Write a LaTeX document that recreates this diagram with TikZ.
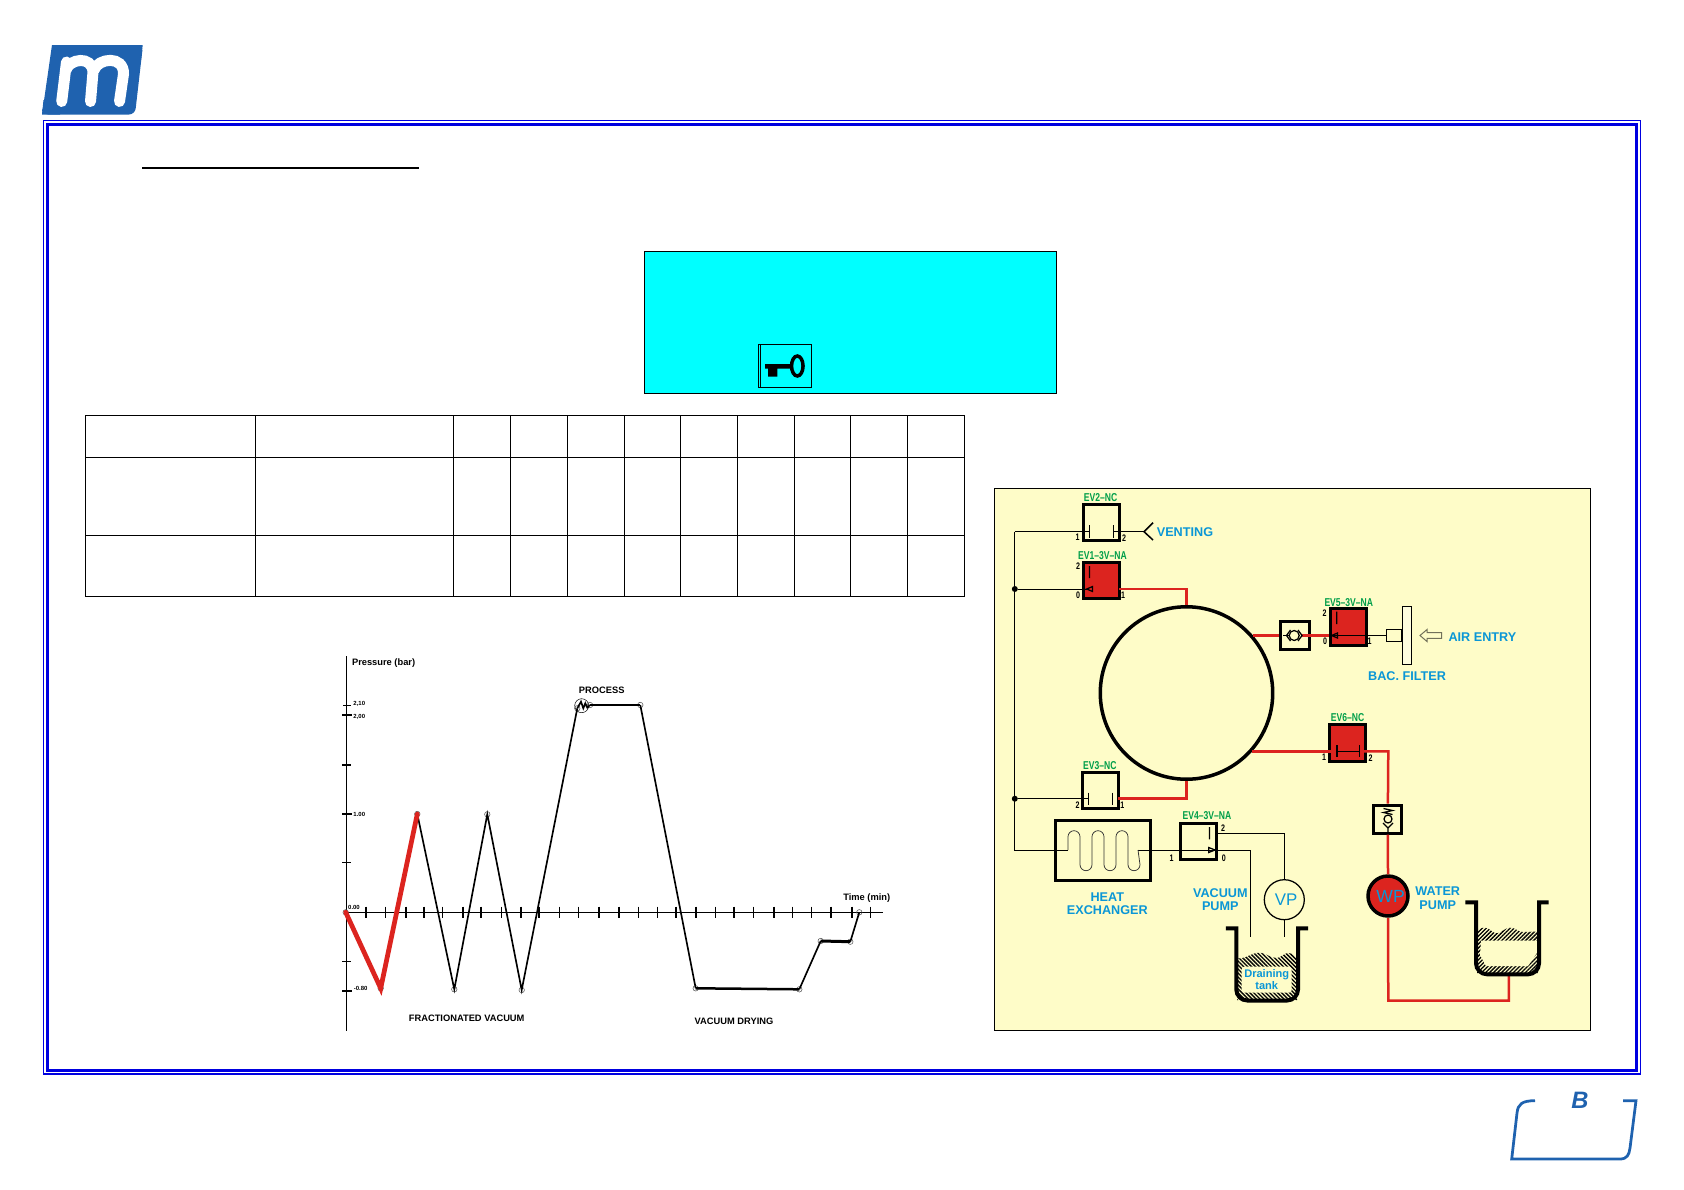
\documentclass[tikz,border=0pt]{standalone}
\usepackage{fontspec}
\setmainfont{Liberation Sans}
\newfontfamily\narrowfont[FakeStretch=.75]{Liberation Sans}
\usepackage{xcolor}
\usepackage{tikz}
\usetikzlibrary{positioning,shapes.geometric,arrows.meta,calc,patterns.meta}
\definecolor{logoblue}{HTML}{1F62AF}
\definecolor{frameblue}{HTML}{0000E0}
\definecolor{panelyellow}{HTML}{FEFCC8}
\definecolor{pipered}{HTML}{DC241F}
\definecolor{textblue}{HTML}{0A96D6}
\definecolor{evgreen}{HTML}{009E49}
\definecolor{notecyan}{RGB}{0,255,255}

\begin{document}
\begin{tikzpicture}[x=0.02cm,y=-0.02cm,
    valve/.style={rectangle, draw=black, line width=0.6mm, minimum width=7.2mm, minimum height=7.3mm, inner sep=0pt},
    valveon/.style={valve, fill=pipered},
    evlabel/.style={font=\narrowfont\bfseries\fontsize{6.5}{7}\selectfont, text=evgreen, inner sep=0pt},
    portnum/.style={font=\narrowfont\bfseries\fontsize{5.4}{6}\selectfont, inner sep=0pt},
    bluetext/.style={font=\bfseries\fontsize{7.2}{7.8}\selectfont, text=textblue, align=center, inner sep=0pt},
    plottext/.style={font=\bfseries\fontsize{5.3}{6}\selectfont, inner sep=0pt},
    ticktext/.style={font=\bfseries\fontsize{3.4}{4}\selectfont, inner sep=0pt},
    pipe/.style={draw=pipered, line width=0.5mm},
    sigline/.style={draw=black, line width=0.2mm},
    stem/.style={draw=black, line width=0.25mm},
    joint/.style={circle, fill=black, minimum size=1.2mm, inner sep=0pt},
    tankwall/.style={draw=black, line width=0.8mm},
    plotmark/.style={circle, draw=black!70, line width=0.1mm, minimum size=1.1mm, inner sep=0pt},
    curve/.style={draw=black, line width=0.33mm},
    curveheavy/.style={draw=pipered, line width=0.95mm}
]
\useasboundingbox (0,0) rectangle (1684,1190);

% logo top left
\fill[logoblue, rounded corners=1.2mm] (52,45) -- (143,45) -- (135,114.5) -- (42,114.5) [sharp corners] -- (42,114.5) -- cycle;
\fill[logoblue] (142.7,45) -- (120,45) -- (120,60) -- (141,60) -- cycle (42,114.5) -- (60,114.5) -- (60,100) -- (43.5,100) -- cycle;
\draw[white, line width=2.2mm, line cap=round] (61.7,101.5) -- (66.5,62)
    (66,70) .. controls (69,59) and (92,55) .. (93,72) -- (90.5,101.5)
    (94,70) .. controls (98,58) and (124,55) .. (123.5,74) -- (119.5,101.5);

% frame
\draw[frameblue, line width=0.25mm] (43.5,120.5) rectangle (1640.5,1074);
\draw[frameblue, line width=0.6mm] (47,124) rectangle (1636,1070.5);

% page letter
\draw[logoblue, line width=0.55mm] (1535,1100.7) .. controls (1522,1100.7) and (1518,1104) .. (1517,1113) -- (1511.7,1159) -- (1620,1159) .. controls (1627,1159) and (1629,1155) .. (1630,1148) -- (1636,1100.7) -- (1623,1100.7);
\node[font=\bfseries\itshape\fontsize{13.5}{14}\selectfont, text=logoblue, inner sep=0pt] (pageletter) at (1580,1100.5) {B};

% title rule
\draw[black, line width=0.4mm] (142,167.7) -- (419,167.7);

% cyan note with key
\draw[black, line width=0.2mm, fill=notecyan] (644.3,251) rectangle (1056.7,393);
\draw[black, line width=0.3mm] (758.3,344.3) rectangle (811.7,387.7);
\draw[black, line width=0.15mm] (760.3,344.3) -- (760.3,387.7);
\draw[black, line width=0.7mm] (797.3,366) ellipse (1.15mm and 2mm);
\fill[black] (765,364) -- (790.5,364) -- (790.5,368.5) -- (777.3,368.5) -- (777.3,376.7) -- (768,376.7) -- (768,368.5) -- (765,368.5) -- cycle;

% empty table
\draw[black, line width=0.2mm] (85,415.5) rectangle (964,596);
\foreach \rowy in {457,535}
    \draw[black, line width=0.2mm] (85,\rowy) -- (964,\rowy);
\foreach \colx in {255,453,510,567,624,680,737,794,850,907}
    \draw[black, line width=0.2mm] (\colx,415.5) -- (\colx,596);

% pressure plot
\draw[black, line width=0.3mm] (346.3,656) -- (346.3,1030.7);
\draw[black, line width=0.3mm] (346.3,912.3) -- (883.3,912.3);
\foreach \ty/\tx in {705.3/343, 765/342, 862.7/342, 961.3/342}
    \draw[black, line width=0.3mm] (\tx,\ty) -- (350.5,\ty);
\foreach \ty in {715.3,814,990.7}
    \draw[black, line width=0.45mm] (342,\ty) -- (351.5,\ty);
\foreach \tx in {365.7,406,424,462.7,481,521.3,538.7,598.7,619,676,696,734,773.7,830.7,852}
    \draw[black, line width=0.4mm] (\tx,906.5) -- (\tx,918);
\foreach \tx in {385,442.7,501,559.7,578.3,638.3,657.3,715.3,753.3,792.3,811.3,870.3}
    \draw[black, line width=0.2mm] (\tx,906.5) -- (\tx,918);

\foreach \pname/\ppos in {p0/{345.7,912.3}, p1/{380.7,988.3}, p2/{417.3,814}, p3/{454.3,989.3}, p4/{487.3,814.3}, p5/{521.7,990}, p6/{577.3,708.3}, p7/{590,705}, p8/{640.3,705}, p9/{695.7,988.3}, p10/{799.3,989.3}, p11/{820.7,941}, p12/{850.3,941.7}, p13/{859.3,912.3}}
    \node[plotmark] (\pname) at (\ppos) {};
\node[circle, draw=black, line width=0.1mm, minimum size=2.8mm, inner sep=0pt] (procring) at (581.7,705.7) {};

\draw[curve] (p2.center) -- (p3.center) -- (p4.center) -- (p5.center) -- (p6.center);
\draw[curve] (p6.center) -- (581,701.7) -- (583.3,708.3) -- (585.3,703.3) -- (587.3,707.7) -- (p7.center);
\draw[curve, line width=0.5mm] (p7.center) -- (p8.center);
\draw[curve] (p8.center) -- (p9.center);
\draw[curve, line width=0.5mm] (p9.center) -- (p10.center);
\draw[curve] (p10.center) -- (p11.center);
\draw[curve, line width=0.6mm] (p11.center) -- (p12.center);
\draw[curve] (p12.center) -- (p13.center);
\draw[curveheavy, line cap=round] (p0.center) -- (p1.center) -- (p2.center);

\node[plottext, anchor=west] (pressurelabel) at (351.7,662.7) {Pressure (bar)};
\node[plottext] (processlabel) at (601.7,690.7) {PROCESS};
\node[plottext] (timelabel) at (866.7,898) {Time (min)};
\node[plottext] (fractionlabel) at (466.7,1018.7) {FRACTIONATED VACUUM};
\node[plottext] (dryinglabel) at (734,1021.7) {VACUUM DRYING};
\node[ticktext] (t210) at (359.3,704.3) {2,10};
\node[ticktext] (t200) at (359.3,717) {2,00};
\node[ticktext] (t100) at (359.3,814.3) {1.00};
\node[ticktext] (t000) at (354,907.7) {0.00};
\node[ticktext] (t080) at (360.7,988) {-0.80};

% circuit panel
\draw[black, line width=0.2mm, fill=panelyellow] (994.2,488.3) rectangle (1590.7,1030);

\node[circle, draw=black, line width=0.7mm, minimum size=34.5mm, inner sep=0pt] (vessel) at (1186.5,693) {};

\node[valve] (ev2) at (1101,522.5) {};
\node[valveon] (ev1) at (1101,580.5) {};
\node[valve] (ev3) at (1100.5,790.3) {};
\node[valve] (ev4) at (1198.2,841.7) {};
\node[valveon] (ev5) at (1348,627.2) {};
\node[valveon] (ev6) at (1347.6,742.8) {};

\node[evlabel] (ev2label) at (1100.6,498) {EV2–NC};
\node[evlabel] (ev1label) at (1102.5,556) {EV1–3V–NA};
\node[evlabel] (ev5label) at (1348.8,602.3) {EV5–3V–NA};
\node[evlabel] (ev6label) at (1347.6,717.7) {EV6–NC};
\node[evlabel] (ev3label) at (1099.8,765.7) {EV3–NC};
\node[evlabel] (ev4label) at (1206.9,815.3) {EV4–3V–NA};

\foreach \num/\nx/\ny/\nname in {1/1077.6/537.7/a, 2/1124/537.7/b, 2/1078/566/c, 0/1078/595/d, 1/1123/595/e, 2/1324.7/612.7/f, 0/1325/641.7/g, 1/1369.7/641.7/h, 1/1324/757.7/i, 2/1370.5/757.7/j, 2/1077.6/805/k, 1/1122.3/805/l, 2/1223/828/m, 1/1171.7/858.7/n, 0/1223.9/858.3/o}
    \node[portnum] (port\nname) at (\nx,\ny) {\num};

% ports and bends
\node[joint] (j1) at (1014.8,589) {};
\node[joint] (j2) at (1014.8,798.7) {};
\coordinate (railtop) at (1014.8,531.7);
\coordinate (railend) at (1014.8,850);
\coordinate (ev2in) at (1089.5,531.7);
\coordinate (ev2out) at (1113.2,531.7);
\coordinate (vent) at (1144,531.7);
\coordinate (ev1in) at (1087,589);
\coordinate (ev1out) at (1119,589);
\coordinate (ev3in) at (1088.7,798.7);
\coordinate (ev3out) at (1118,798.7);
\coordinate (ev5in) at (1332,635.5);
\coordinate (ev6in) at (1337,751.3);
\coordinate (ev6out) at (1359.4,751.3);
\coordinate (ev6right) at (1388.3,751.3);
\coordinate (ev4top) at (1216,833.3);
\coordinate (ev4low) at (1250.4,850);
\coordinate (draintube) at (1250.4,937.3);
\coordinate (hxin) at (1068,850);
\coordinate (hxout) at (1138,850);
\coordinate (pipecorner) at (1388.3,1000.7);
\coordinate (tankport) at (1508.9,975);
\coordinate (cvleft) at (1283,635.5);
\coordinate (cvright) at (1301,635.5);

% check valves and pumps
\node[rectangle, draw=black, line width=0.6mm, fill=panelyellow, minimum width=5.7mm, minimum height=5.6mm, inner sep=0pt] (cv1) at (1294.8,635.8) {};
\node[rectangle, draw=black, line width=0.6mm, fill=panelyellow, minimum width=5.6mm, minimum height=5.6mm, inner sep=0pt] (cv2) at (1387.9,819.2) {};
\node[circle, draw=black, line width=0.7mm, fill=pipered, minimum size=8mm, inner sep=0pt, text=textblue, font=\fontsize{10}{10}\selectfont] (wp) at (1388,896) {\kern3pt WP};
\node[circle, draw=black, line width=0.25mm, minimum size=8mm, inner sep=0pt, text=textblue, font=\fontsize{9.6}{10}\selectfont] (vp) at (1284.3,899.7) {\kern2pt VP};
\node[rectangle, draw=black, line width=0.6mm, minimum width=18.9mm, minimum height=12mm, inner sep=0pt] (hx) at (1103.2,850.5) {};
\node[rectangle, draw=black, line width=0.2mm, fill=panelyellow!60!white, minimum width=1.9mm, minimum height=11.6mm, inner sep=0pt] (filter) at (1407.2,635.5) {};
\node[rectangle, draw=black, line width=0.25mm, anchor=east, minimum width=2.9mm, minimum height=2.3mm, inner sep=0pt] (filterneck) at (filter.west) {};

% pipes
\draw[sigline] (railtop) -- (railend) -- (hxin);
\draw[sigline] (railtop) -- (ev2in);
\draw[sigline] (ev2out) -- (vent);
\draw[sigline] (j1) -- (ev1in);
\draw[sigline] (j2) -- (ev3in);
\draw[sigline] (hxout) -- (ev4low) -- (draintube);
\draw[sigline] (ev4top) -| (vp.north);
\draw[sigline] (vp.south) -- (vp.south |- draintube);
\draw[sigline] (ev5in) -- (filterneck.west);
\draw[sigline] (ev6in) -- (ev6out);
\draw[sigline] (cvleft) -- (1289,635.5);
\draw[pipe] (ev1out) -| (vessel.north);
\draw[pipe] (ev3out) -| (vessel.south);
\draw[pipe] (vessel.41.5 |- cvleft) -- (cv1.west |- cvleft);
\draw[pipe] (cvright) -- (ev5.west |- cvright);
\draw[pipe] (vessel.-42 |- ev6in) -- (ev6in);
\draw[pipe] (ev6out) -- (ev6right) -- (cv2.north);
\draw[pipe] (cv2.south) -- (wp.north);
\draw[pipe] (wp.south) -- (pipecorner) -| (tankport);

% valve inner marks
\draw[stem] (1089.5,525) -- (1089.5,538) (1113.2,525) -- (1113.2,538);
\draw[stem] (1089.5,566) -- (1089.5,578) (1086.7,589) -- (1092.6,586.5) -- (1092.6,591.5) -- cycle;
\draw[stem] (1088.7,792.7) -- (1088.7,805.3) (1112.4,792.7) -- (1112.4,805.3);
\draw[stem] (1209.6,827) -- (1209.6,839.3) (1215,850) -- (1208.7,847.5) -- (1208.7,852.5) -- cycle;
\draw[stem] (1336.7,611.7) -- (1336.7,624) (1331.5,635.5) -- (1337.5,633) -- (1337.5,638) -- cycle;
\draw[stem] (1337,745) -- (1337,757.3) (1359.4,745) -- (1359.4,757.3);

% venting mouth
\draw[black, line width=0.3mm] (1153,522.7) -- (vent) -- (1153,540);
\node[bluetext, anchor=west] (ventlabel) at (1156.5,532.3) {VENTING};

% air entry
\draw[black!55!panelyellow, line width=0.2mm] (1420,635.5) -- (1427,629.5) -- (1427,632.7) -- (1441.7,632.7) -- (1441.7,638.3) -- (1427,638.3) -- (1427,641.5) -- cycle;
\node[bluetext] (airlabel) at (1482.4,636.7) {AIR ENTRY};
\node[bluetext] (filterlabel) at (1407,675.7) {BAC. FILTER};

% check valve bodies
\draw[black, line width=0.25mm] (1294.2,635.5) circle (1mm);
\draw[black, line width=0.25mm] (1290.5,630) -- (1286.5,635.5) -- (1290.5,641) (1298,630) -- (1302,635.5) -- (1298,641);
\draw[black, line width=0.25mm] (1388,819) circle (0.8mm);
\draw[black, line width=0.25mm] (1383.5,808.5) -- (1392.5,810.5) -- (1383.5,812.5) -- (1392.5,814.5);
\draw[black, line width=0.25mm] (1383,823) -- (1388,828) -- (1393,823) (1388,828) -- (1388,832);

% coil
\draw[black!80, line width=0.15mm] (hxin) -- (1068,836.7) arc[start angle=180, end angle=0, radius=1.2mm]
    -- (1080,864.7) arc[start angle=180, end angle=360, radius=1.2mm]
    -- (1092,836.7) arc[start angle=180, end angle=0, radius=1.2mm]
    -- (1104,864.7) arc[start angle=180, end angle=360, radius=1.2mm]
    -- (1116,836.7) arc[start angle=180, end angle=0, radius=1.2mm]
    -- (1128,864.7) arc[start angle=180, end angle=360, radius=1.2mm]
    -- (hxout);

\node[bluetext] (hxlabel) at (1107.3,903.8) {HEAT\\EXCHANGER};
\node[bluetext] (vplabel) at (1220.3,899.5) {VACUUM\\PUMP};
\node[bluetext] (wplabel) at (1437.7,898) {WATER\\PUMP};

% draining tank
\path[pattern={Lines[angle=-45,distance=1.6pt,line width=.75pt]}] (1237,958) .. controls (1245,960) and (1252,952) .. (1260,952.7) .. controls (1266,953) and (1270,958) .. (1276.7,958) .. controls (1281,958) and (1284,953) .. (1288,953) .. controls (1292,953) and (1294,956) .. (1297,958) -- (1297,1000) -- (1237,1000) -- cycle;
\fill[panelyellow, rounded corners=0.5mm] (1241.7,966.7) rectangle (1291.7,992.7);
\node[bluetext, font=\bfseries\fontsize{6.3}{6.7}\selectfont] (draintext) at (1266.7,979.8) {Draining\\tank};
\draw[tankwall] (1225.8,928.3) -- (1236.3,928.3) [rounded corners=2.2mm] -- (1236.3,1000.5) -- (1298,1000.5) [sharp corners] -- (1298,928.3) -- (1308,928.3);

% water tank
\path[pattern={Lines[angle=45,distance=1.6pt,line width=.75pt]}] (1476.7,930) .. controls (1480,928) and (1482,927.7) .. (1485,927.7) .. controls (1490,927.7) and (1492,933.3) .. (1496.7,933.3) .. controls (1501,933.3) and (1505,927.7) .. (1510,927.7) .. controls (1516,927.7) and (1518,932) .. (1523,932) -- (1538,931.5) -- (1538,973) -- (1477,973) -- cycle;
\fill[panelyellow] (1481,940.7) -- (1537.5,940.7) -- (1537.5,952) -- (1528,966) -- (1486,966) -- (1480,955) -- cycle;
\draw[tankwall] (1465.4,902.3) -- (1476,902.3) [rounded corners=2.2mm] -- (1476,974.3) -- (1539,974.3) [sharp corners] -- (1539,902.3) -- (1548.6,902.3);

\end{tikzpicture}
\end{document}
